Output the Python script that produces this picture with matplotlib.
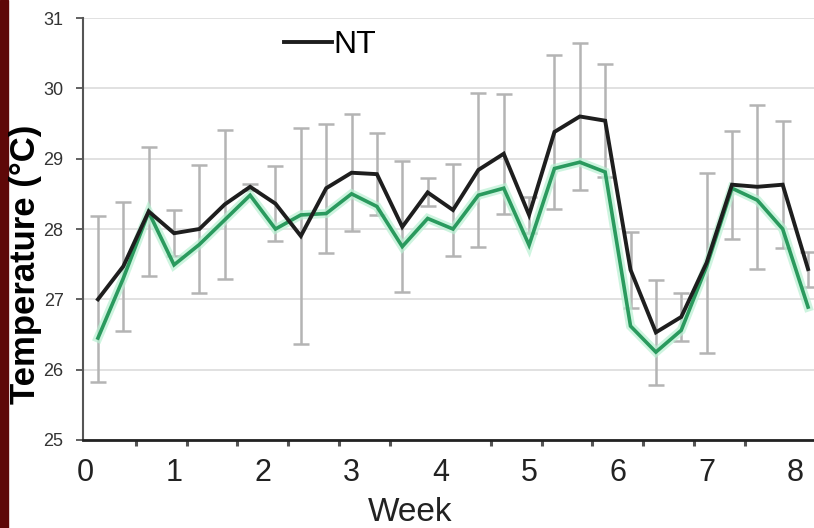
import numpy as np
import matplotlib.pyplot as plt
from matplotlib.patches import Rectangle

plt.rcParams['font.family'] = ['Liberation Sans', 'DejaVu Sans']

# sampling days (every 2 days), plotted against weeks
days = np.arange(1, 58, 2)

nt_temp = [27.0, 27.47, 28.25, 27.94, 28.0, 28.35, 28.6, 28.36, 27.9, 28.58,
           28.8, 28.78, 28.03, 28.52, 28.27, 28.84, 29.07, 28.2, 29.38, 29.6,
           29.54, 27.42, 26.53, 26.75, 27.52, 28.63, 28.6, 28.63, 27.43]
nt_err = [1.18, 0.92, 0.92, 0.33, 0.91, 1.06, 0.04, 0.53, 1.54, 0.92,
          0.83, 0.58, 0.93, 0.2, 0.65, 1.1, 0.85, 0.25, 1.1, 1.04,
          0.8, 0.54, 0.75, 0.34, 1.28, 0.77, 1.17, 0.9, 0.25]
green_temp = [26.45, 27.3, 28.24, 27.49, 27.78, 28.13, 28.48, 28.0, 28.2, 28.22,
              28.5, 28.32, 27.75, 28.15, 28.0, 28.48, 28.58, 27.77, 28.86, 28.95,
              28.81, 26.62, 26.25, 26.56, 27.47, 28.58, 28.41, 28.0, 26.89]

week_labels = ['0', '1', '2', '3', '4', '5', '6', '7', '8']

fig = plt.figure(figsize=(8.14, 5.28), dpi=100)
fig.add_artist(Rectangle((0, 0), 8 / 814, 1, transform=fig.transFigure,
                         color='#5e0808', zorder=0))

ax = fig.add_axes([83 / 814, 1 - 440 / 528, 1 - 83 / 814, (440 - 18) / 528])

# error bars of NT
ax.errorbar(days, nt_temp, yerr=nt_err, fmt='none', ecolor='#b4b4b4',
            elinewidth=1.8, capsize=6, capthick=1.8, zorder=1)

ax.plot(days, green_temp, color='#b8f0d2', linewidth=6.5, alpha=0.7, zorder=2,
        solid_joinstyle='miter')
ax.plot(days, green_temp, color='#2a9a5e', linewidth=2.6, zorder=3,
        solid_joinstyle='miter')
line_nt, = ax.plot(days, nt_temp, color='#1e1e1e', linewidth=2.8, zorder=4,
                   solid_joinstyle='miter')

ax.set_xlim(-0.18, 57.47)
ax.set_ylim(25, 31)

ax.set_yticks(np.arange(25, 32, 1))
ax.set_yticklabels([str(v) for v in range(25, 32)], fontsize=13, color='#333333')
ax.tick_params(axis='y', length=5, width=1.3, color='#555555', pad=9)
ax.yaxis.grid(True, color='#dedede', linewidth=1.3)
ax.set_axisbelow(True)

ax.set_xticks(np.arange(0, 57, 7))
ax.set_xticklabels(week_labels, fontsize=22, color='#222222')
ax.set_xticks(np.arange(0, 57, 4), minor=True)
ax.tick_params(axis='x', which='major', length=0, pad=13)
ax.tick_params(axis='x', which='minor', length=4, width=2.2, color='#555555')

ax.spines['top'].set_visible(False)
ax.spines['right'].set_visible(False)
ax.spines['left'].set_color('#555555')
ax.spines['left'].set_linewidth(1.5)
ax.spines['bottom'].set_color('#222222')
ax.spines['bottom'].set_linewidth(2)

ax.set_ylabel('Temperature (\u00b0C)', fontsize=25, fontweight='bold')
ax.set_xlabel('Week', fontsize=24, color='#222222')
ax.yaxis.set_label_coords(-0.056, 0.417)
ax.xaxis.set_label_coords(0.447, -0.135)

ax.legend([line_nt], ['NT'], loc='center left', bbox_to_anchor=(284 / 814, 1 - 45 / 528),
          bbox_transform=fig.transFigure, frameon=False, fontsize=23,
          handlelength=1.5, handletextpad=0.05, borderpad=0, borderaxespad=0)

fig.savefig('out.png', dpi=100)
